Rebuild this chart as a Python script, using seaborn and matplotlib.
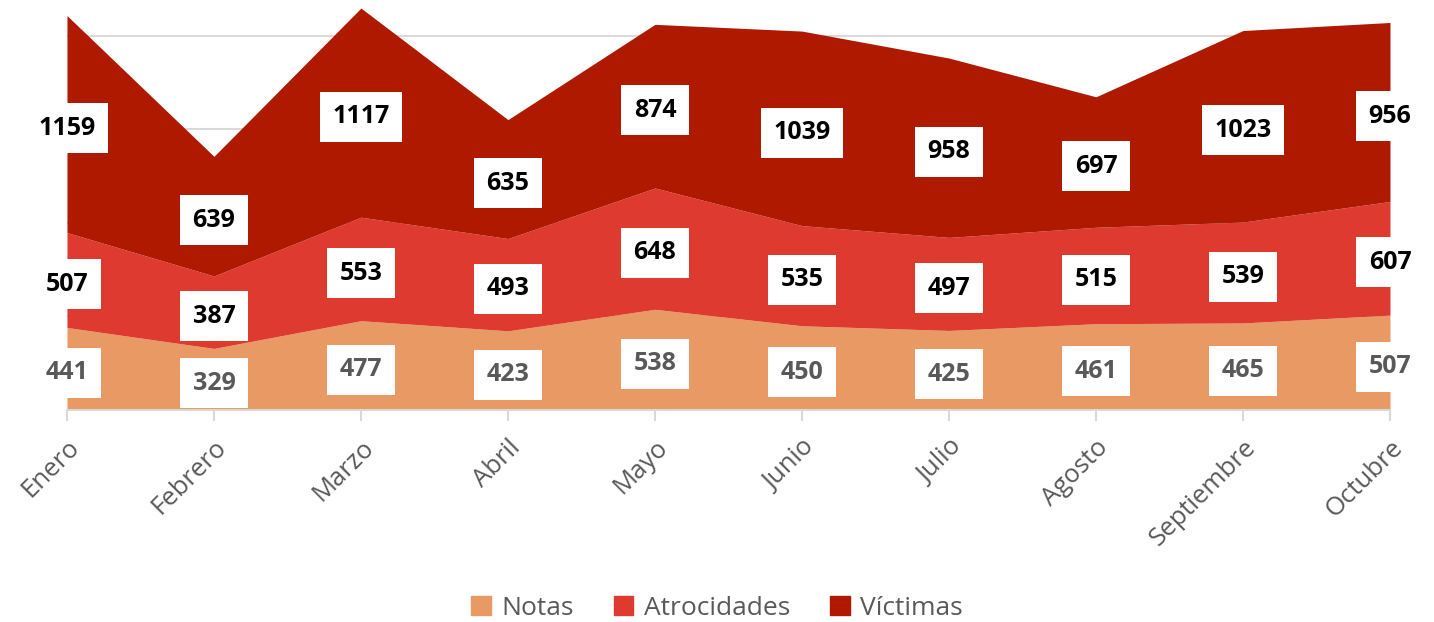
import numpy as np
import matplotlib.pyplot as plt
import seaborn as sns
from matplotlib.patches import Patch

# datos por mes
meses = ['Enero', 'Febrero', 'Marzo', 'Abril', 'Mayo', 'Junio', 'Julio',
         'Agosto', 'Septiembre', 'Octubre']
notas = [441, 329, 477, 423, 538, 450, 425, 461, 465, 507]
atrocidades = [507, 387, 553, 493, 648, 535, 497, 515, 539, 607]
victimas = [1159, 639, 1117, 635, 874, 1039, 958, 697, 1023, 956]
series = ['Notas', 'Atrocidades', 'Víctimas']
colores = ['#E99963', '#DE3A30', '#AE1900']

sns.set_theme(style='white')
plt.rcParams['font.family'] = ['Open Sans', 'DejaVu Sans']

fig = plt.figure(figsize=(14.34, 6.22), dpi=100)
ax = fig.add_axes([0.0467, 0.3408, 0.9226, 0.6592])

x = np.arange(len(meses))
ax.stackplot(x, notas, atrocidades, victimas, colors=colores, lw=0, zorder=2)

# cuadricula
for g in [500, 1000, 1500, 2000]:
    ax.axhline(g, color='#D9D9D9', lw=1.5, zorder=1)

ax.set_xlim(0, len(meses) - 1)
ax.set_ylim(0, 2190)
ax.set_yticks([])
for s in ['left', 'right', 'top']:
    ax.spines[s].set_visible(False)
ax.spines['bottom'].set_color('#D9D9D9')
ax.spines['bottom'].set_linewidth(1.5)

ax.set_xticks(x)
ax.set_xticklabels(meses, rotation=45, ha='right', rotation_mode='anchor',
                   fontsize=18.5, color='#595959')
ax.tick_params(axis='x', length=8, width=1.5, color='#D9D9D9', pad=10,
               bottom=True)

# etiquetas de datos
base = np.zeros(len(meses))
for vals, txtcol in zip([notas, atrocidades, victimas], ['#595959', 'black', 'black']):
    vals = np.array(vals)
    for xi, b, v in zip(x, base, vals):
        ax.annotate(str(v), (xi, b + v / 2), xytext=(0, -3), textcoords='offset points',
                    ha='center', va='center', fontsize=18, fontweight='bold',
                    color=txtcol, zorder=5,
                    bbox=dict(boxstyle='square,pad=0.5', fc='white', ec='none'))
    base = base + vals

handles = [Patch(color=c, label=s) for c, s in zip(colores, series)]
fig.legend(handles=handles, loc='center', bbox_to_anchor=(0.5, 0.022), ncol=3,
           frameon=False, fontsize=19, handlelength=0.75, handleheight=0.75,
           handletextpad=0.4, columnspacing=1.5, labelcolor='#595959')

fig.savefig('out.png', dpi=100)
